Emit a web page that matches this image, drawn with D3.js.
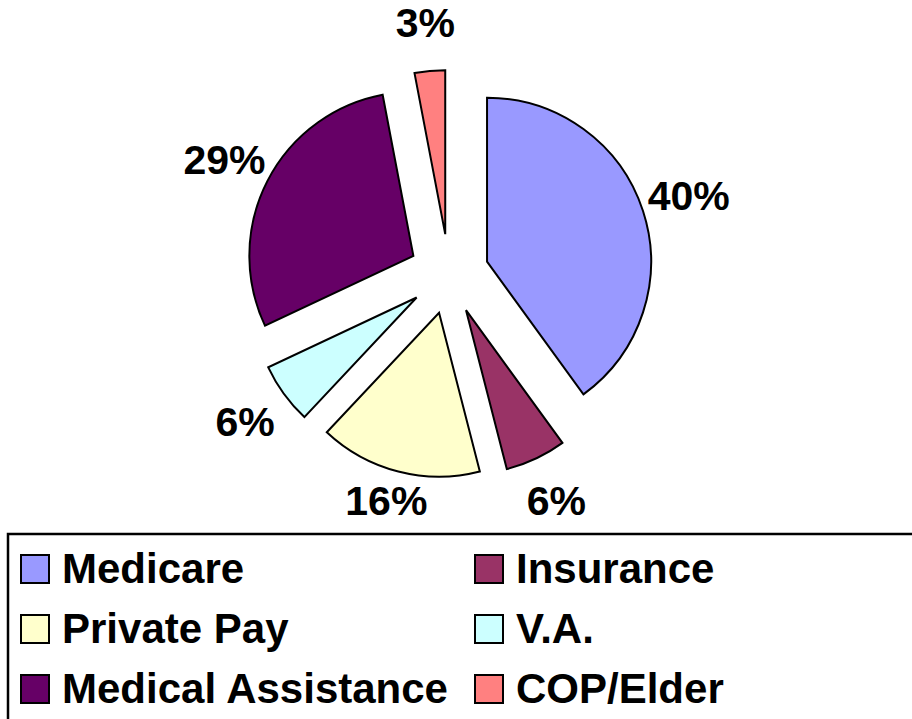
<!DOCTYPE html>
<html>
<head>
<meta charset="utf-8">
<script src="https://cdn.jsdelivr.net/npm/d3@7/dist/d3.min.js"></script>
<style>
  html, body { margin: 0; padding: 0; background: #fff; }
  svg { display: block; }
  text { font-family: "Liberation Sans", Arial, sans-serif; font-weight: bold; fill: #000; }
</style>
</head>
<body>
<svg id="chart" width="912" height="719"></svg>
<script>
// ---- data ----
const categories = ["Medicare", "Insurance", "Private Pay", "V.A.", "Medical Assistance", "COP/Elder"];
const values = [40, 6, 16, 6, 29, 3];
const colors = ["#9999FF", "#993366", "#FFFFCC", "#CCFFFF", "#660066", "#FF8080"];
const labels = ["40%", "6%", "16%", "6%", "29%", "3%"];

// ---- layout ----
const W = 912, H = 719;
const cx = 449, cy = 274;
const radius = 164;
const explode = 40;
const labelRadius = 252;
const legX = 8, legY = 534;

const svg = d3.select("#chart");

const pie = d3.pie().sort(null).value(d => d.value).startAngle(0).endAngle(2 * Math.PI);
const data = categories.map((c, i) => ({ name: c, value: values[i], color: colors[i], label: labels[i] }));
const arcs = pie(data);
const arc = d3.arc().innerRadius(0).outerRadius(radius);

const g = svg.append("g").attr("transform", `translate(${cx},${cy})`);

g.selectAll("path.slice")
  .data(arcs)
  .join("path")
  .attr("class", "slice")
  .attr("d", arc)
  .attr("fill", d => d.data.color)
  .attr("stroke", "#000")
  .attr("stroke-width", 2)
  .attr("stroke-linejoin", "miter")
  .attr("transform", d => {
    const m = (d.startAngle + d.endAngle) / 2;
    return `translate(${Math.sin(m) * explode},${-Math.cos(m) * explode})`;
  });

// labels: placed along each slice's mid angle, kept clear of the legend box
const maxLabelY = (legY - 33) - cy;
g.selectAll("text.lbl")
  .data(arcs)
  .join("text")
  .attr("class", "lbl")
  .attr("x", d => Math.sin((d.startAngle + d.endAngle) / 2) * labelRadius)
  .attr("y", d => Math.min(-Math.cos((d.startAngle + d.endAngle) / 2) * labelRadius, maxLabelY))
  .attr("text-anchor", "middle")
  .attr("dominant-baseline", "central")
  .attr("font-size", 41)
  .text(d => d.data.label);

// ---- legend ----
svg.append("rect")
  .attr("x", legX).attr("y", legY)
  .attr("width", W + 20).attr("height", H)
  .attr("fill", "none").attr("stroke", "#000").attr("stroke-width", 2.5);

const colX = [21, 475];
const rowY0 = 555, rowStep = 60, sw = 28;
const leg = svg.selectAll("g.leg")
  .data(data)
  .join("g")
  .attr("class", "leg")
  .attr("transform", (d, i) => `translate(${colX[i % 2]},${rowY0 + Math.floor(i / 2) * rowStep})`);
leg.append("rect")
  .attr("width", sw).attr("height", sw)
  .attr("fill", d => d.color).attr("stroke", "#000").attr("stroke-width", 2);
leg.append("text")
  .attr("x", 41).attr("y", sw)
  .attr("font-size", 42)
  .text(d => d.name);
</script>
</body>
</html>
